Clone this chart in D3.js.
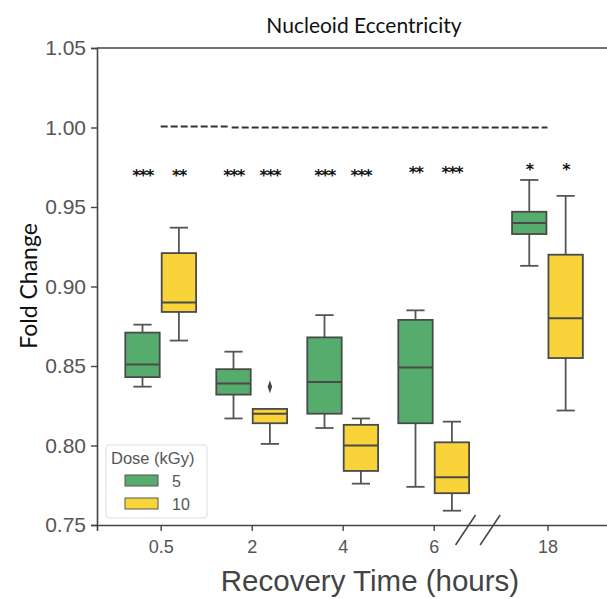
<!DOCTYPE html>
<html>
<head>
<meta charset="utf-8">
<script src="https://cdn.jsdelivr.net/npm/d3@7"></script>
<style>
  body { margin: 0; background: #fff; }
  svg { display: block; }
</style>
</head>
<body>
<svg id="chart"></svg>
<script>
var width = 607, height = 599;

// recovery time categories, and their slot positions on the axis (18 h sits after a break)
var times = ["0.5", "2", "4", "6", "18"];
var slots = [0, 1, 2, 3, 4.25];
var doses = ["5", "10"];
var doseColors = ["#55ac6d", "#f8d43a"];

// box stats per dose: [lowWhisker, q1, median, q3, highWhisker]
var dose5 = [
  [0.837, 0.843, 0.851, 0.871, 0.876],
  [0.817, 0.832, 0.839, 0.848, 0.859],
  [0.811, 0.820, 0.840, 0.868, 0.882],
  [0.774, 0.814, 0.849, 0.879, 0.885],
  [0.913, 0.933, 0.940, 0.947, 0.967]
];
var dose10 = [
  [0.866, 0.884, 0.890, 0.921, 0.937],
  [0.801, 0.814, 0.820, 0.823, 0.823],
  [0.776, 0.784, 0.800, 0.813, 0.817],
  [0.759, 0.770, 0.780, 0.802, 0.815],
  [0.822, 0.855, 0.880, 0.920, 0.957]
];
// outliers: [timeIndex, doseIndex, value]
var outliers = [[1, 1, 0.837]];
// significance stars per box
var stars5 = ["***", "***", "***", "**", "*"];
var stars10 = ["**", "***", "***", "***", "*"];
var starY5 = [0.973, 0.973, 0.973, 0.975, 0.977];
var starY10 = [0.973, 0.973, 0.973, 0.975, 0.977];
// dashed reference at 1.0, in slot units
var refSegments = [[0, 0.74], [0.78, 4.25]];
var yTicks = [0.75, 0.80, 0.85, 0.90, 0.95, 1.00, 1.05];

var svg = d3.select("#chart").attr("width", width).attr("height", height);

var x = d3.scaleLinear().domain([-0.7, 5.0]).range([97, 97 + 5.7 * 91]);
var y = d3.scaleLinear().domain([0.75, 1.05]).range([525, 48]);
var boxW = x(0.4) - x(0);
var capW = boxW / 2;

// axes
var yAxis = svg.append("g")
  .attr("transform", "translate(" + x(-0.7) + ",0)")
  .call(d3.axisLeft(y).tickValues(yTicks).tickFormat(d3.format(".2f")).tickSize(6).tickPadding(5));
var xAxis = svg.append("g")
  .attr("transform", "translate(0," + y(0.75) + ")")
  .call(d3.axisBottom(x).tickValues(slots).tickFormat(function (d, i) { return times[i]; }).tickSize(6).tickPadding(9));

[yAxis, xAxis].forEach(function (a) {
  a.select(".domain").attr("stroke", "#444").attr("stroke-width", 1.6);
  a.selectAll(".tick line").attr("stroke", "#444").attr("stroke-width", 1.4);
  a.selectAll(".tick text")
    .attr("fill", "#555")
    .style("font-family", "'Liberation Sans', Arial, sans-serif")
    .style("font-size", "21px");
});
xAxis.selectAll(".tick text").style("font-size", "18px");

// top spine
svg.append("line")
  .attr("x1", x(-0.7)).attr("x2", x(5.0))
  .attr("y1", y(1.05)).attr("y2", y(1.05))
  .attr("stroke", "#444").attr("stroke-width", 1.6);

// axis break marks
[3.35, 3.62].forEach(function (s) {
  svg.append("line")
    .attr("x1", x(s) - 10).attr("y1", y(0.75) + 20)
    .attr("x2", x(s) + 10).attr("y2", y(0.75) - 10)
    .attr("stroke", "#444").attr("stroke-width", 1.5);
});

// dashed reference
svg.selectAll(".ref")
  .data(refSegments)
  .enter().append("line")
  .attr("class", "ref")
  .attr("x1", function (d) { return x(d[0]); })
  .attr("x2", function (d) { return x(d[1]); })
  .attr("y1", function (d, i) { return y(1.0) - (i == 0 ? 1 : 0); })
  .attr("y2", function (d, i) { return y(1.0) - (i == 0 ? 1 : 0); })
  .attr("stroke", "#333")
  .attr("stroke-width", 2)
  .attr("stroke-dasharray", "7,3");

// boxes
var boxes = [];
times.forEach(function (t, i) {
  boxes.push({ slot: slots[i], dose: 0, s: dose5[i], star: stars5[i], sy: starY5[i] });
  boxes.push({ slot: slots[i], dose: 1, s: dose10[i], star: stars10[i], sy: starY10[i] });
});

function boxCenter(d) {
  return x(d.slot) + (d.dose == 0 ? -boxW / 2 : boxW / 2);
}

var g = svg.selectAll(".box")
  .data(boxes)
  .enter().append("g")
  .attr("class", "box");

g.append("line")
  .attr("x1", boxCenter).attr("x2", boxCenter)
  .attr("y1", function (d) { return y(d.s[0]); })
  .attr("y2", function (d) { return y(d.s[1]); })
  .attr("stroke", "#555").attr("stroke-width", 1.8);
g.append("line")
  .attr("x1", boxCenter).attr("x2", boxCenter)
  .attr("y1", function (d) { return y(d.s[3]); })
  .attr("y2", function (d) { return y(d.s[4]); })
  .attr("stroke", "#555").attr("stroke-width", 1.8);
[0, 4].forEach(function (k) {
  g.append("line")
    .attr("x1", function (d) { return boxCenter(d) - capW / 2; })
    .attr("x2", function (d) { return boxCenter(d) + capW / 2; })
    .attr("y1", function (d) { return y(d.s[k]); })
    .attr("y2", function (d) { return y(d.s[k]); })
    .attr("stroke", "#555").attr("stroke-width", 1.8);
});
g.append("rect")
  .attr("x", function (d) { return boxCenter(d) - boxW / 2 + 1; })
  .attr("width", boxW - 2)
  .attr("y", function (d) { return y(d.s[3]); })
  .attr("height", function (d) { return y(d.s[1]) - y(d.s[3]); })
  .attr("fill", function (d) { return doseColors[d.dose]; })
  .attr("stroke", "#4a4a4a").attr("stroke-width", 1.8);
g.append("line")
  .attr("x1", function (d) { return boxCenter(d) - boxW / 2 + 1; })
  .attr("x2", function (d) { return boxCenter(d) + boxW / 2 - 1; })
  .attr("y1", function (d) { return y(d.s[2]); })
  .attr("y2", function (d) { return y(d.s[2]); })
  .attr("stroke", "#4a4a4a").attr("stroke-width", 2);

// stars
g.append("text")
  .attr("x", boxCenter)
  .attr("y", function (d) { return y(d.sy) + 11; })
  .attr("text-anchor", "middle")
  .style("font-family", "'DejaVu Sans', sans-serif")
  .style("font-size", "16px")
  .style("font-weight", "bold")
  .style("letter-spacing", "-1.5px")
  .attr("fill", "#111")
  .text(function (d) { return d.star; });

// outliers
svg.selectAll(".outlier")
  .data(outliers)
  .enter().append("path")
  .attr("class", "outlier")
  .attr("d", d3.symbol().type(d3.symbolDiamond).size(40))
  .attr("transform", function (d) {
    var cx = x(slots[d[0]]) + (d[1] == 0 ? -boxW / 2 : boxW / 2);
    return "translate(" + cx + "," + y(d[2]) + ") scale(0.65,1.1)";
  })
  .attr("fill", "#444");

// legend
var leg = svg.append("g").attr("transform", "translate(106,445)");
leg.append("rect")
  .attr("width", 101).attr("height", 73).attr("rx", 3)
  .attr("fill", "#fff").attr("stroke", "#ddd").attr("stroke-width", 1);
leg.append("text")
  .attr("x", 5).attr("y", 19)
  .attr("fill", "#555")
  .style("font-family", "'Liberation Sans', Arial, sans-serif")
  .style("font-size", "16.5px")
  .text("Dose (kGy)");
doses.forEach(function (d, i) {
  leg.append("rect")
    .attr("x", 19).attr("y", 30 + i * 23)
    .attr("width", 33).attr("height", 11)
    .attr("fill", doseColors[i]).attr("stroke", "#555").attr("stroke-width", 1);
  leg.append("text")
    .attr("x", 66).attr("y", 42 + i * 23)
    .attr("fill", "#555")
    .style("font-family", "'Liberation Sans', Arial, sans-serif")
    .style("font-size", "16px")
    .text(d);
});

// titles
svg.append("text")
  .attr("x", 364).attr("y", 33)
  .attr("text-anchor", "middle")
  .style("font-family", "Lato, 'Open Sans', sans-serif")
  .style("font-size", "21px")
  .attr("fill", "#111")
  .text("Nucleoid Eccentricity");
svg.append("text")
  .attr("transform", "translate(37,286) rotate(-90)")
  .attr("text-anchor", "middle")
  .style("font-family", "Lato, 'Open Sans', sans-serif")
  .style("font-size", "23px")
  .attr("fill", "#111")
  .text("Fold Change");
svg.append("text")
  .attr("x", 370).attr("y", 591)
  .attr("text-anchor", "middle")
  .style("font-family", "'Liberation Sans', Arial, sans-serif")
  .style("font-size", "29.5px")
  .attr("fill", "#444")
  .text("Recovery Time (hours)");
</script>
</body>
</html>
